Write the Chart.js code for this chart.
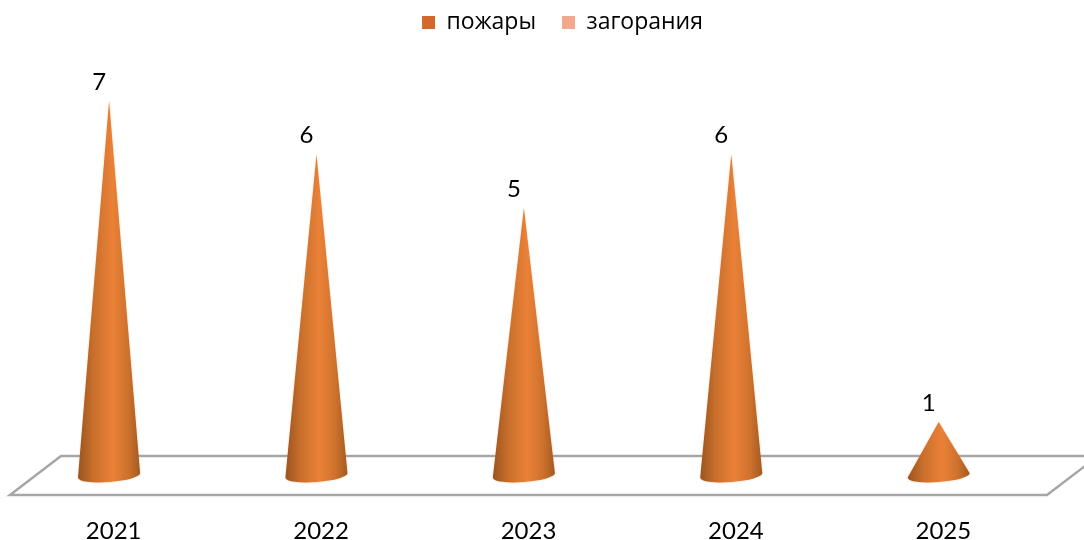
<!DOCTYPE html>
<html>
<head>
<meta charset="utf-8">
<style>
  html, body { margin: 0; padding: 0; background: #fff; }
  canvas { display: block; }
</style>
<script src="https://cdn.jsdelivr.net/npm/chart.js@4"></script>
</head>
<body>
<canvas id="coneChart" width="1084" height="540"></canvas>
<script>
const years = ['2021', '2022', '2023', '2024', '2025'];
const fires = [7, 6, 5, 6, 1];
const smolders = [null, null, null, null, null];

const DEPTH_X = 51;
const DEPTH_Y = 39;
const CONE_SHIFT_X = 26.5;
const TEXT = '#000000';

// Floor of the 3D plot, drawn under the cones
function drawFloor(ctx, area) {
  const l = area.left, r = area.right, b = area.bottom;
  ctx.save();
  ctx.strokeStyle = '#a6a6a6';
  ctx.lineWidth = 2.5;
  ctx.beginPath();
  ctx.moveTo(r + DEPTH_X, b - DEPTH_Y);
  ctx.lineTo(l + DEPTH_X, b - DEPTH_Y);
  ctx.lineTo(l, b);
  ctx.lineTo(r, b);
  ctx.lineTo(r + DEPTH_X, b - DEPTH_Y);
  ctx.stroke();
  ctx.restore();
}

function drawCone(ctx, bar) {
  const cx = bar.x + CONE_SHIFT_X;
  const half = bar.width / 2;
  const baseY = bar.base - DEPTH_Y / 2;
  const topY = bar.y - DEPTH_Y / 2;
  const tilt = -0.075;
  const ry = 6.5;

  const grad = ctx.createLinearGradient(cx - half, 0, cx + half, 0);
  grad.addColorStop(0, '#9a541f');
  grad.addColorStop(0.25, '#c96f2c');
  grad.addColorStop(0.55, '#ea8137');
  grad.addColorStop(0.8, '#cf722d');
  grad.addColorStop(1, '#a35a22');

  ctx.save();
  ctx.fillStyle = grad;
  ctx.shadowColor = 'rgba(240,150,90,0.45)';
  ctx.shadowBlur = 2;
  ctx.beginPath();
  ctx.moveTo(cx, topY);
  ctx.lineTo(cx - half, baseY + half * Math.sin(-tilt));
  ctx.ellipse(cx, baseY, half, ry, tilt, Math.PI, 0, true);
  ctx.closePath();
  ctx.fill();
  ctx.restore();
}

const conePlugin = {
  id: 'cones',
  // legend sits higher and further right than Chart.js would put it
  afterLayout(chart) {
    chart.legend.top -= 23;
    chart.legend.left += 34;
    chart.legend.right += 34;
  },
  beforeDatasetsDraw(chart) {
    drawFloor(chart.ctx, chart.chartArea);
  },
  // cones replace the default bar rectangles
  beforeDatasetDraw(chart, args) {
    const ctx = chart.ctx;
    const values = chart.data.datasets[args.index].data;
    args.meta.data.forEach((bar, i) => {
      if (values[i] == null) return;
      drawCone(ctx, bar);
      ctx.save();
      ctx.fillStyle = TEXT;
      ctx.font = '24px Lato, "Open Sans", sans-serif';
      ctx.textAlign = 'center';
      ctx.textBaseline = 'middle';
      ctx.fillText(values[i], bar.x + CONE_SHIFT_X - 10, bar.y - DEPTH_Y / 2 - 19);
      ctx.restore();
    });
    return false;
  }
};

new Chart(document.getElementById('coneChart'), {
  type: 'bar',
  data: {
    labels: years,
    datasets: [
      { label: 'пожары', data: fires, backgroundColor: '#d2692b', borderWidth: 0 },
      { label: 'загорания', data: smolders, backgroundColor: '#f2a88b', borderWidth: 0 }
    ]
  },
  options: {
    responsive: false,
    animation: false,
    layout: { padding: { left: 10, right: 37, top: 8, bottom: 0 } },
    datasets: { bar: { categoryPercentage: 0.6, barPercentage: 1 } },
    plugins: {
      tooltip: { enabled: false },
      legend: {
        display: true,
        position: 'top',
        onClick: null,
        labels: {
          color: TEXT,
          font: { family: '"Open Sans", sans-serif', size: 23 },
          boxWidth: 13,
          boxHeight: 13,
          padding: 26
        }
      }
    },
    scales: {
      x: {
        grid: { display: false },
        border: { display: false },
        afterFit(scale) { scale.height = 45; },
        ticks: { color: TEXT, font: { family: 'Lato, "Open Sans", sans-serif', size: 24 }, padding: 14, maxRotation: 0 }
      },
      y: {
        display: false,
        min: 0,
        max: 8
      }
    }
  },
  plugins: [conePlugin]
});
</script>
</body>
</html>
